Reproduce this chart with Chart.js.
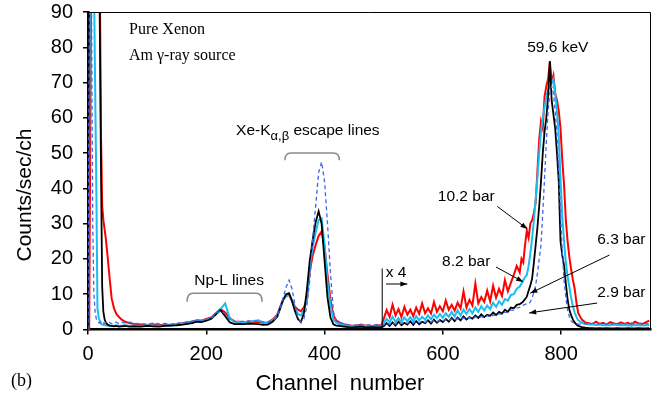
<!DOCTYPE html>
<html><head><meta charset="utf-8">
<script src="https://cdn.jsdelivr.net/npm/chart.js@4.4.0/dist/chart.umd.min.js"></script>
<style>html,body{margin:0;padding:0;background:#fff}#wrap{width:662px;height:399px}</style>
</head><body><div id="wrap"><canvas id="c" width="662" height="399"></canvas></div>
<script>
// ---- data (channel numbers, counts/sec/ch; above channel ~497 the counts are shown x4) ----
const channels = [
  0,2,4,6,8,10,12,14,16,18,20,22,24,26,28,30,
  33,36,40,44,48,52,57,63,70,80,90,100,110,120,130,140,150,160,
  168,176,184,192,200,208,216,224,232,240,248,256,264,272,280,288,296,304,312,320,
  325,330,335,340,345,350,355,360,365,370,375,380,385,390,395,400,405,410,415,420,425,430,
  440,450,460,470,480,490,496,
  500,505,510,515,520,525,530,535,540,545,550,555,560,565,570,575,580,585,590,595,
  600,605,610,615,620,625,630,635,640,645,650,655,660,665,670,675,680,685,690,695,
  700,705,710,715,720,725,730,
  733,736,739,742,745,748,751,754,757,760,763,766,769,772,775,778,781,784,787,790,
  793,796,799,802,805,808,811,814,817,820,823,826,829,
  835,841,847,853,859,865,871,877,883,889,895,901,907,913,919,925,931,937,943,949
];
// 10.2 bar (red)
const bar102 = [
  0,0,60,120,120,120,120,120,120,120,100,55,35,31,28.5,26,
  21,15.5,8.8,6.0,4.4,3.6,2.8,2.2,1.8,1.5,1.4,1.3,1.5,1.2,1.4,1.3,1.5,1.8,
  2.0,2.2,2.6,2.5,3.0,3.4,4.6,5.8,4.8,3.2,2.3,2.2,2.0,2.3,2.1,2.2,1.9,2.0,2.8,4.2,
  6.5,8.5,9.5,9.8,8.2,6.5,5.6,5.2,6.3,8.4,16.5,21.0,24.0,26.5,27.8,23.5,15.5,8.5,4.0,2.5,2.0,1.6,
  1.2,1.0,1.3,1.1,1.0,1.2,1.1,
  3.0,5.5,3.6,7.0,4.0,5.8,3.5,6.4,4.2,5.6,3.8,6.2,4.4,7.4,4.6,6.0,4.5,7.8,5.0,6.6,
  5.2,8.2,5.6,7.0,5.4,7.6,6.0,10.8,6.2,8.4,6.8,13.0,7.4,9.2,7.8,11.0,8.0,12.4,9.0,11.5,
  9.5,14.0,10.8,13.2,15.5,18.0,16.2,
  20,19,24,28,26,30,31,33,36,45,54,59,57,66,69,71,76,70,72,67,
  65,62,57,48,41,31,25,20.5,17,14,11.5,7.5,4.6,
  2.8,2.0,1.8,1.5,2.2,1.6,1.9,1.4,2.1,1.7,1.5,2.0,1.6,1.9,1.4,2.2,1.7,1.5,2.0,2.5
];
// 8.2 bar (cyan)
const bar82 = [
  0,50,120,120,120,100,70,42,6,3.5,2.3,1.7,1.4,1.3,1.2,1.2,
  1.1,1.2,1.0,1.1,1.2,1.0,1.1,1.2,1.0,1.1,1.0,1.2,1.1,1.0,1.2,1.1,1.4,1.6,
  1.8,2.0,2.4,2.4,2.7,3.2,4.5,5.8,7.4,3.0,2.2,2.1,2.0,2.2,2.4,2.6,2.0,1.9,2.6,4.0,
  6.2,8.3,9.5,10.0,8.3,6.0,4.4,4.0,5.5,8.4,17.5,23.5,27.5,31.0,31.5,24.0,13.5,6.8,2.8,1.9,1.5,1.3,
  0.9,1.0,0.8,1.0,0.9,0.8,0.9,
  1.8,3.0,2.0,3.6,2.2,3.2,2.1,3.4,2.4,3.5,2.3,3.8,2.6,3.6,2.8,4.0,2.9,4.2,3.2,4.4,
  3.3,4.6,3.6,5.0,3.7,5.4,4.0,5.6,4.4,5.8,4.6,6.2,5.0,6.6,5.4,6.8,5.8,7.6,6.4,8.0,
  7.0,8.6,8.2,9.8,10.0,11.6,12.2,
  13.0,14.0,14.8,15.5,18,21.6,26,31,37,43,50,56,60,63,66,68,69,70,71,67,
  62,55,43,32,25,19,15,12,9,6.5,4.8,3.5,2.6,
  1.9,1.6,1.4,1.5,1.3,1.4,1.2,1.3,1.2,1.4,1.3,1.2,1.3,1.2,1.1,1.3,1.2,1.1,1.2,1.3
];
// 6.3 bar (black)
const bar63 = [
  0,120,120,120,120,120,120,120,120,120,85,45,12,5,3,2,
  1.4,1.1,1.0,0.9,1.0,0.8,0.9,1.0,0.8,0.9,0.8,1.0,0.9,0.8,1.0,1.1,1.2,1.4,
  1.6,1.8,2.2,2.1,2.5,3.0,4.2,5.5,3.8,2.0,1.5,1.6,1.5,1.7,1.6,1.5,1.3,1.4,2.2,3.6,
  6.0,8.5,10.0,10.3,8.0,5.2,3.0,2.1,4.5,11.0,19.5,25.5,30.5,33.5,30.0,19.5,9.0,3.4,1.5,1.1,1.0,0.9,
  0.7,0.6,0.8,0.6,0.7,0.6,0.7,
  0.9,1.8,1.0,2.0,1.1,2.2,1.2,1.9,1.4,2.3,1.3,2.4,1.5,2.2,1.8,2.6,1.7,2.8,1.9,2.7,
  2.1,3.0,2.2,3.3,2.4,3.4,2.6,3.7,2.8,3.5,3.1,4.0,3.3,4.3,3.5,4.2,3.9,4.8,4.1,5.0,
  4.5,5.6,5.0,6.2,6.0,7.0,7.2,
  7.5,8.0,8.6,9.3,11,12.5,14.5,19,24,29,35,42,50,56,60,66,76,65,61,57,
  50,42,25,21,18,13,8.5,5.5,4,2.8,2.0,1.4,1.0,
  0.7,0.5,0.4,0.4,0.3,0.4,0.3,0.4,0.3,0.3,0.4,0.3,0.3,0.4,0.3,0.3,0.4,0.3,0.3,0.4
];
// 2.9 bar (blue dashed)
const bar29 = [
  0,80,120,90,30,10,5,3,2.6,2.0,1.8,2.2,1.7,1.9,1.6,1.9,
  1.7,2.0,1.6,1.9,2.1,1.7,2.0,1.8,2.1,1.7,1.6,1.5,1.8,1.6,1.7,1.5,1.8,1.9,
  2.2,2.4,2.7,2.6,2.9,3.2,4.3,5.3,4.5,2.8,2.3,2.2,2.4,2.3,2.2,2.5,2.1,2.0,2.5,3.5,
  6.0,9.0,12.0,14.0,11.5,7.0,3.2,2.2,3.0,6.5,14.0,26.0,35.0,44.5,47.5,42.0,30.0,16.0,5.0,2.3,2.0,1.8,
  1.4,1.2,1.5,1.3,1.2,1.4,1.3,
  1.3,1.8,1.4,2.0,1.5,1.9,1.6,2.1,1.7,2.2,1.8,2.3,1.9,2.4,2.0,2.5,2.1,2.6,2.2,2.7,
  2.4,2.9,2.5,3.0,2.6,3.1,2.8,3.3,2.9,3.4,3.0,3.6,3.2,3.7,3.3,3.9,3.5,4.1,3.9,4.5,
  4.3,4.9,4.8,5.5,5.5,6.1,6.3,
  6.6,6.9,7.1,7.3,7.3,7.8,9.0,10.5,12.5,16,20,24,33,43,53,62,67,69,67,62,
  55,45,33,22,14,9,5.5,3.5,2.4,1.9,1.7,1.6,1.5,
  1.5,1.7,1.4,1.8,1.5,1.6,1.9,1.5,1.7,1.6,1.8,1.5,1.7,1.6,1.9,1.5,1.7,1.8,1.6,1.7
];
const seriesLabels = ['2.9 bar','6.3 bar','8.2 bar','10.2 bar'];
const xTicks = [0,200,400,600,800];
const yTicks = [0,10,20,30,40,50,60,70,80,90];

[bar102,bar82,bar63,bar29].forEach((a,i)=>{ if(a.length!==channels.length) throw new Error('length mismatch '+i+': '+a.length+' vs '+channels.length); });

// ---- annotations (placed in data units) ----
const SANS = '"Liberation Sans", Arial, Helvetica, sans-serif';
const SERIF = '"Liberation Serif", "Times New Roman", serif';
const noteTexts = [
  {t:'Pure Xenon', ch:69.4, v:85.0, font:'16px '+SERIF, align:'left'},
  {t:'Am \u03b3-ray source', ch:69.4, v:77.6, font:'16px '+SERIF, align:'left'},
  {t:'59.6 keV', ch:794.4, v:79.9, font:'15.5px '+SANS, align:'center'},
  {t:'Np-L lines', ch:238.6, v:13.7, font:'15.5px '+SANS, align:'center'},
  {t:'10.2 bar', ch:639.6, v:37.6, font:'15.5px '+SANS, align:'center'},
  {t:'8.2 bar', ch:639.6, v:19.1, font:'15.5px '+SANS, align:'center'},
  {t:'6.3 bar', ch:901.9, v:25.4, font:'15.5px '+SANS, align:'center'},
  {t:'2.9 bar', ch:901.9, v:10.3, font:'15.5px '+SANS, align:'center'},
  {t:'x 4', ch:521, v:16.0, font:'15.5px '+SANS, align:'center'}
];
const noteArrows = [
  {from:[692,34.9], to:[743,28.5]},
  {from:[690,17.7], to:[736,13.5]},
  {from:[881.6,21.1], to:[747.9,10.3]},
  {from:[861,7.5], to:[746,4.7]},
  {from:[504,12.9], to:[540,12.9]}
];
const noteBrackets = [
  {c1:333, c2:425, top:50.0, end:48.0},
  {c1:167.5, c2:294.4, top:10.3, end:7.9}
];
const scaleMarker = {ch:497.5, v:17.3};

function arrow(ctx,x1,y1,x2,y2){
  const head=7, w=2.6;
  ctx.beginPath(); ctx.moveTo(x1,y1); ctx.lineTo(x2,y2); ctx.stroke();
  const a=Math.atan2(y2-y1,x2-x1), c=Math.cos(a), s=Math.sin(a);
  ctx.beginPath(); ctx.moveTo(x2,y2);
  ctx.lineTo(x2-head*c+w*s, y2-head*s-w*c);
  ctx.lineTo(x2-head*c-w*s, y2-head*s+w*c);
  ctx.closePath(); ctx.fill();
}

const annot = {
  id:'annot',
  afterDraw(chart){
    const {ctx, chartArea:A, scales:{x,y}} = chart;
    const X=v=>x.getPixelForValue(v), Y=v=>y.getPixelForValue(v);
    ctx.save();
    ctx.strokeStyle='#000'; ctx.lineWidth=1;
    ctx.beginPath(); ctx.moveTo(A.left, A.top+0.5); ctx.lineTo(A.right-0.5, A.top+0.5); ctx.lineTo(A.right-0.5, A.bottom); ctx.stroke();
    ctx.fillStyle='#000'; ctx.textBaseline='middle';
    ctx.font='20px '+SANS; ctx.textAlign='center';
    xTicks.forEach(v=>ctx.fillText(String(v), X(v), Y(0)+25));
    noteTexts.forEach(n=>{ ctx.font=n.font; ctx.textAlign=n.align; ctx.fillText(n.t, X(n.ch), Y(n.v)); });
    ctx.textAlign='left';
    let px=X(250.4), py=Y(56.3);
    ctx.font='15.5px '+SANS; ctx.fillText('Xe-K', px, py); px+=ctx.measureText('Xe-K').width;
    ctx.font='13px '+SANS; ctx.fillText('\u03b1,\u03b2', px, py+6); px+=ctx.measureText('\u03b1,\u03b2').width;
    ctx.font='15.5px '+SANS; ctx.fillText(' escape lines', px, py);
    ctx.strokeStyle='#000'; ctx.fillStyle='#000'; ctx.lineWidth=1;
    noteArrows.forEach(a=>arrow(ctx, X(a.from[0]),Y(a.from[1]),X(a.to[0]),Y(a.to[1])));
    ctx.beginPath(); ctx.moveTo(X(scaleMarker.ch), Y(0)); ctx.lineTo(X(scaleMarker.ch), Y(scaleMarker.v)); ctx.stroke();
    ctx.strokeStyle='#8a8a8a'; ctx.lineWidth=1.5;
    noteBrackets.forEach(b=>{
      const x1=X(b.c1), x2=X(b.c2), yt=Y(b.top), ye=Y(b.end), r=6;
      ctx.beginPath(); ctx.moveTo(x1,ye); ctx.quadraticCurveTo(x1,yt,x1+r,yt); ctx.lineTo(x2-r,yt); ctx.quadraticCurveTo(x2,yt,x2,ye); ctx.stroke();
    });
    ctx.fillStyle='#000'; ctx.textAlign='center'; ctx.textBaseline='middle';
    ctx.font='22px '+SANS;
    ctx.fillText('Channel  number', 340, 384);
    ctx.font='21px '+SANS;
    ctx.save(); ctx.translate(25, 195); ctx.rotate(-Math.PI/2); ctx.fillText('Counts/sec/ch', 0, 0); ctx.restore();
    ctx.font='18px '+SERIF; ctx.textAlign='left';
    ctx.fillText('(b)', 11, 381);
    ctx.restore();
  }
};

const mk = arr => channels.map((c,i)=>({x:c, y:arr[i]}));
const common = {pointRadius:0, tension:0, fill:false, clip:{left:0,top:0,right:0,bottom:3}};

new Chart(document.getElementById('c'), {
  type:'line',
  data:{ datasets:[
    Object.assign({label:seriesLabels[0], data:mk(bar29), borderColor:'#3d66f0', borderWidth:1.3, borderDash:[4,3]}, common),
    Object.assign({label:seriesLabels[1], data:mk(bar63), borderColor:'#000000', borderWidth:1.8}, common),
    Object.assign({label:seriesLabels[2], data:mk(bar82), borderColor:'#19bdf0', borderWidth:2}, common),
    Object.assign({label:seriesLabels[3], data:mk(bar102), borderColor:'#ff0000', borderWidth:2}, common)
  ]},
  options:{
    responsive:false, animation:false, devicePixelRatio:1,
    layout:{padding:{left:0,right:11,top:12,bottom:0}},
    plugins:{legend:{display:false}, tooltip:{enabled:false}},
    scales:{
      x:{ type:'linear', min:0, max:952,
        afterBuildTicks:s=>{ s.ticks = xTicks.map(v=>({value:v})); },
        ticks:{display:false},
        grid:{drawOnChartArea:false, drawTicks:true, tickLength:5, color:'#000', lineWidth:1.5},
        border:{display:true, color:'#000', width:2.5},
        afterFit:s=>{ s.height = 69.5; }
      },
      y:{ type:'linear', min:0, max:90,
        afterBuildTicks:s=>{ s.ticks = yTicks.map(v=>({value:v})); },
        ticks:{color:'#000', font:{family:SANS, size:20}, padding:10},
        grid:{drawOnChartArea:false, drawTicks:true, tickLength:5, color:'#000', lineWidth:1.5},
        border:{display:true, color:'#000', width:2.5},
        afterFit:s=>{ s.width = 88; s.paddingTop=0; s.paddingBottom=0; }
      }
    }
  },
  plugins:[annot]
});
</script></body></html>
